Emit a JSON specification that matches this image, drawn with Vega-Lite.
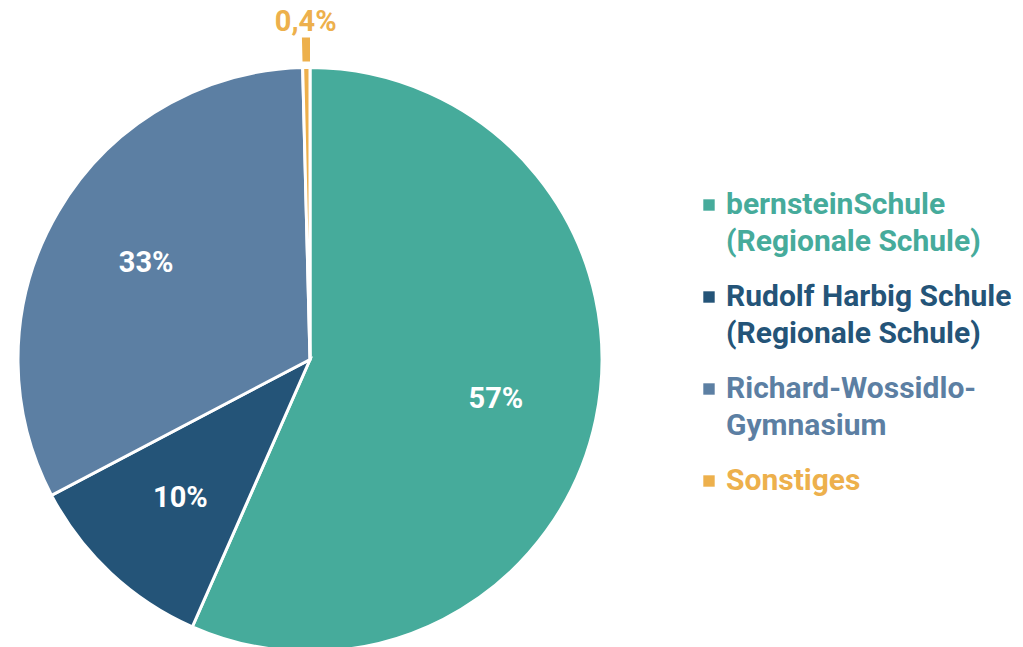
{
  "$schema": "https://vega.github.io/schema/vega-lite/v6.json",
  "width": 620,
  "height": 647,
  "autosize": {"type": "none"},
  "padding": {"left": 0, "top": 36, "right": 403, "bottom": 0},
  "background": "white",
  "config": {"view": {"stroke": null}, "font": "Roboto", "style": {"guide-label": {"lineHeight": 37}}},
  "data": {
    "values": [
      {"idx": 1, "name": "bernsteinSchule (Regionale Schule)", "value": 56.6, "label": "57%"},
      {"idx": 2, "name": "Rudolf Harbig Schule (Regionale Schule)", "value": 10.7, "label": "10%"},
      {"idx": 3, "name": "Richard-Wossidlo-Gymnasium", "value": 32.3, "label": "33%"},
      {"idx": 4, "name": "Sonstiges", "value": 0.4, "label": "0,4%"}
    ]
  },
  "encoding": {
    "theta": {"field": "value", "type": "quantitative", "stack": true},
    "order": {"field": "idx", "type": "quantitative"},
    "color": {
      "field": "name",
      "type": "nominal",
      "scale": {
        "domain": ["bernsteinSchule (Regionale Schule)", "Rudolf Harbig Schule (Regionale Schule)", "Richard-Wossidlo-Gymnasium", "Sonstiges"],
        "range": ["#46AB9B", "#245478", "#5C7FA3", "#EDB04C"]
      },
      "legend": {
        "title": null,
        "orient": "none",
        "legendX": 694,
        "legendY": 154,
        "symbolType": "square",
        "symbolSize": 130,
        "symbolStrokeWidth": 0,
        "labelFont": "Roboto",
        "labelFontSize": 30,
        "labelFontWeight": "bold",
        "labelLimit": 400,
        "labelOffset": 2,
        "rowPadding": 25,
        "labelColor": {"expr": "scale('color', datum.value)"},
        "labelExpr": "datum.label == 'bernsteinSchule (Regionale Schule)' ? ['bernsteinSchule', '(Regionale Schule)'] : datum.label == 'Rudolf Harbig Schule (Regionale Schule)' ? ['Rudolf Harbig Schule', '(Regionale Schule)'] : datum.label == 'Richard-Wossidlo-Gymnasium' ? ['Richard-Wossidlo-', 'Gymnasium'] : datum.label"
      }
    }
  },
  "layer": [
    {
      "mark": {"type": "arc", "radius": 292, "stroke": "white", "strokeWidth": 3}
    },
    {
      "mark": {"type": "arc", "radius": 298, "radius2": 322},
      "encoding": {
        "opacity": {"condition": {"test": "datum.name == 'Sonstiges'", "value": 1}, "value": 0}
      }
    },
    {
      "mark": {"type": "text", "radius": 190, "fontSize": 29, "fontWeight": "bold", "font": "Roboto"},
      "encoding": {
        "text": {"field": "label"},
        "color": {"value": "white"},
        "opacity": {"condition": {"test": "datum.name == 'Sonstiges'", "value": 0}, "value": 1}
      }
    },
    {
      "mark": {"type": "text", "radius": 338, "fontSize": 29, "fontWeight": "bold", "font": "Roboto"},
      "encoding": {
        "text": {"field": "label"},
        "color": {"value": "#EDB04C"},
        "opacity": {"condition": {"test": "datum.name == 'Sonstiges'", "value": 1}, "value": 0}
      }
    }
  ]
}
